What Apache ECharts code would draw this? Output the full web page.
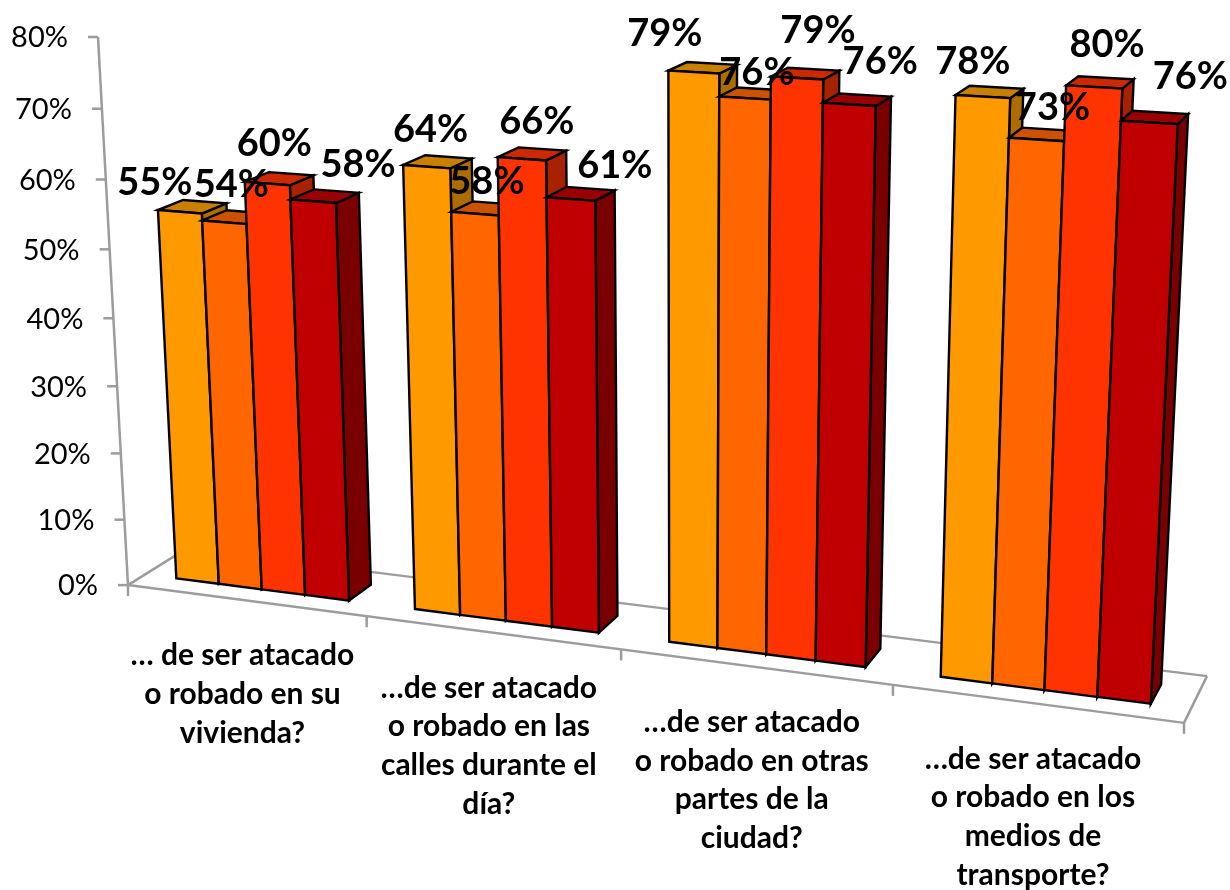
<!DOCTYPE html>
<html>
<head>
<meta charset="utf-8">
<title>Chart</title>
<style>
	html,body{margin:0;padding:0;background:#fff;}
	#main{width:1230px;height:890px;}
</style>
<script src="https://cdn.jsdelivr.net/npm/echarts@6/dist/echarts.min.js"></script>
</head>
<body>
<div id="main"></div>
<script type="text/javascript">
var categories = [
	'… de ser atacado\no robado en su\nvivienda?',
	'…de ser atacado\no robado en las\ncalles durante el\ndía?',
	'…de ser atacado\no robado en otras\npartes de la\nciudad?',
	'…de ser atacado\no robado en los\nmedios de\ntransporte?'
];
var valueTicks = [0, 10, 20, 30, 40, 50, 60, 70, 80];
var serie1 = [55, 64, 79, 78];
var serie2 = [54, 58, 76, 73];
var serie3 = [60, 66, 79, 80];
var serie4 = [58, 61, 76, 76];

var FONT = 'Lato, "Open Sans", sans-serif';
var GREY = '#9c9c9c';

// colors per serie: front, top, side
var colors = [
	['#ff9900', '#c98000', '#ad6c00'],
	['#ff6600', '#cc5200', '#b04600'],
	['#ff3300', '#cc2900', '#a82200'],
	['#c00000', '#9a0000', '#7a0000']
];

// label position relative to the top of its bar, one row per serie
var labelShift = [
	[[-25, -29], [4, -37], [-29, -38], [-10, -35]],
	[[7, -38], [12, -32], [12, -25], [16, -32]],
	[[7, -40], [15, -37], [21, -47], [13, -42]],
	[[45, -36], [44, -33], [31, -43], [41, -46]]
];

// 3d box of the chart: x along the floor, y into the page, z up
var anchors = [
	[0, 0, 0, 128, 585],
	[1, 0, 0, 1184, 723],
	[1, 1, 0, 1207, 676],
	[0, 1, 0, 186, 549],
	[0, 0, 1, 98, 37],
	[1, 0, 1, 1215, 101]
];

function solve(A, b) {
	var n = b.length;
	for (var i = 0; i < n; i++) {
		var m = i;
		for (var r = i + 1; r < n; r++) {
			if (Math.abs(A[r][i]) > Math.abs(A[m][i])) m = r;
		}
		var t = A[i]; A[i] = A[m]; A[m] = t;
		t = b[i]; b[i] = b[m]; b[m] = t;
		for (r = i + 1; r < n; r++) {
			var f = A[r][i] / A[i][i];
			for (var c = i; c < n; c++) A[r][c] -= f * A[i][c];
			b[r] -= f * b[i];
		}
	}
	var res = [];
	for (i = n - 1; i >= 0; i--) {
		var s = b[i];
		for (c = i + 1; c < n; c++) s -= A[i][c] * res[c];
		res[i] = s / A[i][i];
	}
	return res;
}

// least squares fit of the camera on the anchors, pixels in thousands
function getProjection() {
	var rows = [], rhs = [];
	anchors.forEach(function (p) {
		var X = p[0], Y = p[1], Z = p[2], u = p[3] / 1000, v = p[4] / 1000;
		rows.push([X, Y, Z, 1, 0, 0, 0, 0, -u * X, -u * Y, -u * Z]);
		rhs.push(u);
		rows.push([0, 0, 0, 0, X, Y, Z, 1, -v * X, -v * Y, -v * Z]);
		rhs.push(v);
	});
	var A = [], b = [];
	for (var i = 0; i < 11; i++) {
		A[i] = [];
		b[i] = 0;
		for (var j = 0; j < 11; j++) {
			A[i][j] = 0;
			for (var r = 0; r < rows.length; r++) A[i][j] += rows[r][i] * rows[r][j];
		}
		for (r = 0; r < rows.length; r++) b[i] += rows[r][i] * rhs[r];
	}
	return solve(A, b);
}
var P = getProjection();

function project(x, y, z) {
	var w = P[8] * x + P[9] * y + P[10] * z + 1;
	return [1000 * (P[0] * x + P[1] * y + P[2] * z + P[3]) / w, 1000 * (P[4] * x + P[5] * y + P[6] * z + P[7]) / w];
}

var BAR_FRONT = 0.29, BAR_BACK = 0.71;
var BAR_MARGIN = 0.135, BAR_WIDTH = 0.1825;

function barBox(params, api, serieIdx) {
	var sys = params.coordSys;
	var band = api.size([1, 0])[0];
	var pt = api.coord([api.value(0), api.value(1)]);
	var left = pt[0] - band / 2 + band * (BAR_MARGIN + BAR_WIDTH * serieIdx);
	return {
		x0: (left - sys.x) / sys.width,
		x1: (left + band * BAR_WIDTH - sys.x) / sys.width,
		z: (sys.y + sys.height - pt[1]) / sys.height
	};
}

function poly(points, fill) {
	return {
		type: 'polygon',
		shape: { points: points },
		style: { fill: fill, stroke: '#000', lineWidth: 2.4, lineJoin: 'miter' }
	};
}

function line(a, b) {
	return {
		type: 'line',
		shape: { x1: a[0], y1: a[1], x2: b[0], y2: b[1] },
		style: { stroke: GREY, lineWidth: 2.5 }
	};
}

function barItem(serieIdx) {
	return function (params, api) {
		var k = barBox(params, api, serieIdx);
		var c = colors[serieIdx];
		return {
			type: 'group',
			children: [
				poly([project(k.x1, BAR_FRONT, 0), project(k.x1, BAR_BACK, 0), project(k.x1, BAR_BACK, k.z), project(k.x1, BAR_FRONT, k.z)], c[2]),
				poly([project(k.x0, BAR_FRONT, k.z), project(k.x1, BAR_FRONT, k.z), project(k.x1, BAR_BACK, k.z), project(k.x0, BAR_BACK, k.z)], c[1]),
				poly([project(k.x0, BAR_FRONT, 0), project(k.x1, BAR_FRONT, 0), project(k.x1, BAR_FRONT, k.z), project(k.x0, BAR_FRONT, k.z)], c[0])
			]
		};
	};
}

function labelItem(serieIdx) {
	return function (params, api) {
		var k = barBox(params, api, serieIdx);
		var top = project((k.x0 + k.x1) / 2, BAR_FRONT, k.z);
		var shift = labelShift[serieIdx][params.dataIndex];
		return {
			type: 'text',
			style: {
				text: api.value(1) + '%',
				x: top[0] + shift[0],
				y: top[1] + shift[1],
				fill: '#000',
				align: 'center',
				verticalAlign: 'middle',
				font: 'bold 38px ' + FONT
			}
		};
	};
}

function floorItem() {
	var o = project(0, 0, 0);
	return {
		type: 'group',
		children: [
			line(o, project(1, 0, 0)),
			line(project(1, 0, 0), project(1, 1, 0)),
			line(project(1, 1, 0), project(0, 1, 0)),
			line(project(0, 1, 0), o),
			line(o, project(0, 0, 1)),
			line(o, [o[0], o[1] + 11])
		]
	};
}

function valueTickItem(params, api) {
	var sys = params.coordSys;
	var v = api.value(1);
	var z = (sys.y + sys.height - api.coord([0, v])[1]) / sys.height;
	var p = project(0, 0, z);
	return {
		type: 'group',
		children: [
			line(p, [p[0] - 10, p[1]]),
			{
				type: 'text',
				style: {
					text: v + '%',
					x: p[0] - 30,
					y: p[1] + 1,
					fill: '#000',
					align: 'right',
					verticalAlign: 'middle',
					font: '29px ' + FONT
				}
			}
		]
	};
}

function categoryItem(params, api) {
	var sys = params.coordSys;
	var band = api.size([1, 0])[0];
	var cx = api.coord([api.value(0), 0])[0];
	var edge = project((cx + band / 2 - sys.x) / sys.width, 0, 0);
	var mid = project((cx - sys.x) / sys.width, 0, 0);
	return {
		type: 'group',
		children: [
			line(edge, [edge[0], edge[1] + 11]),
			{
				type: 'text',
				style: {
					text: categories[params.dataIndex],
					x: mid[0] - 3,
					y: mid[1] + 36,
					fill: '#000',
					align: 'center',
					verticalAlign: 'top',
					lineHeight: 38.7,
					font: 'bold 30px ' + FONT
				}
			}
		]
	};
}

var series = [];
series.push({ type: 'custom', z: 1, renderItem: floorItem, data: [[0, 0]] });
series.push({
	type: 'custom', z: 1, renderItem: valueTickItem,
	data: valueTicks.map(function (v) { return [0, v]; })
});
series.push({
	type: 'custom', z: 1, renderItem: categoryItem,
	data: categories.map(function (c, i) { return [i, 0]; })
});
[serie1, serie2, serie3, serie4].forEach(function (vals, s) {
	var rows = vals.map(function (v, i) { return [i, v]; });
	series.push({ type: 'custom', z: 2, renderItem: barItem(s), data: rows });
	series.push({ type: 'custom', z: 5, renderItem: labelItem(s), data: rows });
});

var myChart = echarts.init(document.getElementById('main'));
myChart.setOption({
	animation: false,
	backgroundColor: '#fff',
	grid: { left: 100, top: 40, width: 1000, height: 800 },
	xAxis: { type: 'category', data: categories, show: false },
	yAxis: { type: 'value', min: 0, max: 80, interval: 10, show: false },
	series: series
});
</script>
</body>
</html>
